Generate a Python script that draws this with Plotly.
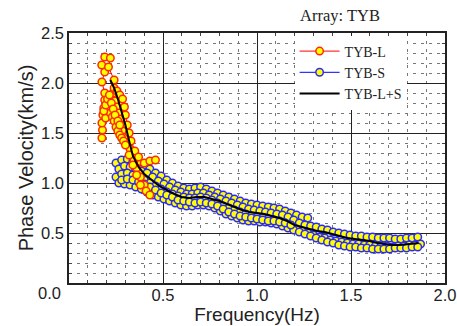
import plotly.graph_objects as go

# ---------------- data ----------------
# TYB-L (several branches)
L1_f = [0.175, 0.178, 0.175, 0.18, 0.185, 0.19, 0.19, 0.175, 0.19, 0.174, 0.19, 0.22, 0.21, 0.24]
L1_v = [1.45, 1.53, 1.60, 1.68, 1.75, 1.83, 1.90, 2.01, 2.11, 2.18, 2.26, 2.25, 2.16, 2.03]
L2_f = [0.195, 0.205, 0.215, 0.225, 0.235, 0.245, 0.255, 0.265, 0.275, 0.285, 0.295, 0.305, 0.315, 0.325, 0.335, 0.345, 0.36, 0.38, 0.40]
L2_v = [1.65, 1.72, 1.80, 1.86, 1.90, 1.82, 1.76, 1.70, 1.64, 1.58, 1.52, 1.46, 1.40, 1.34, 1.28, 1.22, 1.15, 1.06, 0.98]
L3_f = [0.24, 0.255, 0.27, 0.285, 0.295, 0.30, 0.31, 0.32, 0.33, 0.35, 0.37, 0.40, 0.43, 0.46]
L3_v = [1.95, 1.92, 1.88, 1.84, 1.76, 1.68, 1.58, 1.50, 1.42, 1.32, 1.26, 1.20, 1.22, 1.23]
L4_f = [0.20, 0.21, 0.22, 0.23, 0.24, 0.25, 0.26, 0.27, 0.28, 0.29, 0.30, 0.32, 0.34, 0.36, 0.38, 0.41, 0.43]
L4_v = [1.78, 1.74, 1.70, 1.66, 1.62, 1.56, 1.52, 1.48, 1.45, 1.42, 1.38, 1.28, 1.18, 1.08, 0.98, 0.92, 0.88]
L5_f = [0.185, 0.195, 0.205, 0.215, 0.225, 0.235, 0.245, 0.26, 0.27]
L5_v = [1.72, 1.78, 1.84, 1.88, 1.80, 1.74, 1.68, 1.62, 1.58]

# TYB-S (several branches)
S1_f = [0.25, 0.28, 0.31, 0.34, 0.37, 0.40, 0.43, 0.46, 0.49, 0.52, 0.55, 0.58, 0.61, 0.64, 0.67, 0.70, 0.73, 0.76,
        0.79, 0.82, 0.85, 0.88, 0.91, 0.94, 0.97, 1.00, 1.03, 1.06, 1.09, 1.12, 1.15, 1.18, 1.21, 1.24, 1.27]
S1_v = [1.20, 1.23, 1.24, 1.22, 1.20, 1.18, 1.14, 1.10, 1.07, 1.03, 1.00, 0.97, 0.95, 0.94, 0.95, 0.96, 0.94, 0.92,
        0.90, 0.88, 0.86, 0.84, 0.82, 0.80, 0.79, 0.78, 0.77, 0.76, 0.75, 0.74, 0.72, 0.70, 0.68, 0.66, 0.65]
S2_f = [0.265, 0.295, 0.325, 0.355, 0.385, 0.415, 0.445, 0.475, 0.505, 0.535, 0.565, 0.595, 0.625, 0.655, 0.685,
        0.715, 0.745, 0.775, 0.805, 0.835, 0.865, 0.895, 0.925, 0.955, 0.985, 1.015, 1.045, 1.075, 1.105, 1.135,
        1.165, 1.195, 1.225, 1.255, 1.285, 1.315, 1.345, 1.375, 1.405, 1.435, 1.465, 1.495, 1.525, 1.555, 1.585,
        1.615, 1.645, 1.675, 1.705, 1.735, 1.765, 1.795, 1.825, 1.855]
S2_v = [1.14, 1.17, 1.16, 1.14, 1.12, 1.10, 1.06, 1.02, 0.99, 0.96, 0.93, 0.91, 0.89, 0.89, 0.90,
        0.90, 0.88, 0.86, 0.84, 0.82, 0.80, 0.78, 0.76, 0.74, 0.73, 0.72, 0.71, 0.70, 0.69, 0.68,
        0.66, 0.63, 0.60, 0.58, 0.57, 0.56, 0.54, 0.53, 0.51, 0.50, 0.49, 0.48, 0.47, 0.47, 0.46,
        0.46, 0.45, 0.45, 0.45, 0.44, 0.44, 0.45, 0.45, 0.46]
S3_f = [0.25, 0.28, 0.31, 0.34, 0.37, 0.40, 0.43, 0.46, 0.49, 0.52, 0.55, 0.58, 0.61, 0.64, 0.67, 0.70, 0.73, 0.76,
        0.79, 0.82, 0.85, 0.88, 0.91, 0.94, 0.97, 1.00, 1.03, 1.06, 1.09, 1.12, 1.15, 1.18, 1.21, 1.24, 1.27, 1.30,
        1.33, 1.36, 1.39, 1.42, 1.45, 1.48, 1.51, 1.54, 1.57, 1.60, 1.63, 1.66, 1.69, 1.72, 1.75, 1.78, 1.81, 1.84, 1.87]
S3_v = [1.06, 1.09, 1.10, 1.08, 1.06, 1.03, 1.00, 0.97, 0.94, 0.91, 0.89, 0.87, 0.86, 0.85, 0.85, 0.86, 0.85, 0.83,
        0.80, 0.77, 0.75, 0.73, 0.71, 0.69, 0.67, 0.66, 0.65, 0.64, 0.63, 0.62, 0.60, 0.57, 0.54, 0.52, 0.50, 0.48,
        0.46, 0.45, 0.43, 0.42, 0.41, 0.40, 0.39, 0.39, 0.38, 0.38, 0.37, 0.37, 0.37, 0.36, 0.37, 0.37, 0.38, 0.38, 0.39]
S4_f = S2_f
S4_v = [1.00, 0.99, 0.98, 0.96, 0.94, 0.91, 0.88, 0.86, 0.84, 0.82, 0.80, 0.78, 0.77, 0.77, 0.78,
        0.78, 0.77, 0.75, 0.72, 0.69, 0.67, 0.65, 0.63, 0.62, 0.62, 0.61, 0.61, 0.60, 0.59, 0.57,
        0.55, 0.53, 0.51, 0.49, 0.47, 0.45, 0.43, 0.41, 0.40, 0.38, 0.37, 0.36, 0.36, 0.35, 0.35,
        0.34, 0.34, 0.34, 0.34, 0.35, 0.35, 0.35, 0.36, 0.36]
S5_f = [0.28, 0.31, 0.34, 0.37, 0.40, 0.43, 0.46, 0.49, 0.52, 0.55, 0.58, 0.61, 0.64, 0.67, 0.70, 0.73,
        0.76, 0.79, 0.82, 0.85, 0.88, 0.91, 0.94, 0.97, 1.00, 1.03, 1.06, 1.09, 1.12, 1.15, 1.18]
S5_v = [1.03, 1.04, 1.03, 1.01, 0.99, 0.96, 0.93, 0.90, 0.88, 0.86, 0.83, 0.82, 0.81, 0.80, 0.81, 0.80,
        0.79, 0.77, 0.74, 0.71, 0.69, 0.67, 0.66, 0.65, 0.64, 0.63, 0.62, 0.62, 0.61, 0.60, 0.58]

# TYB-L+S combined curve
LS_f = [0.22, 0.24, 0.26, 0.28, 0.30, 0.32, 0.34, 0.37, 0.40, 0.44, 0.48, 0.52, 0.56, 0.60, 0.64, 0.68, 0.72, 0.76,
        0.80, 0.84, 0.88, 0.92, 0.96, 1.00, 1.04, 1.08, 1.12, 1.16, 1.20, 1.24, 1.28, 1.32, 1.36, 1.40, 1.44, 1.48,
        1.52, 1.56, 1.60, 1.64, 1.68, 1.72, 1.76, 1.80, 1.84, 1.86]
LS_v = [2.03, 1.95, 1.84, 1.72, 1.58, 1.42, 1.27, 1.16, 1.09, 1.03, 0.97, 0.93, 0.89, 0.86, 0.85, 0.86, 0.86, 0.84,
        0.82, 0.79, 0.76, 0.73, 0.71, 0.70, 0.69, 0.67, 0.65, 0.62, 0.58, 0.56, 0.54, 0.52, 0.51, 0.49, 0.47, 0.45,
        0.44, 0.43, 0.42, 0.40, 0.39, 0.38, 0.38, 0.39, 0.40, 0.40]

# tick labels (the shared origin label "0.0" sits once at the lower-left corner)
x_ticks = [0.5, 1.0, 1.5, 2.0]
y_ticks = [0.5, 1.0, 1.5, 2.0, 2.5]
origin_label = "0.0"


def join(branches):
    xs, ys = [], []
    for fx, vy in branches:
        xs += list(fx) + [None]
        ys += list(vy) + [None]
    return xs, ys


Lx, Ly = join([(L1_f, L1_v), (L2_f, L2_v), (L3_f, L3_v), (L4_f, L4_v), (L5_f, L5_v)])
Sx, Sy = join([(S1_f, S1_v), (S2_f, S2_v), (S3_f, S3_v), (S4_f, S4_v), (S5_f, S5_v)])

SANS = "Liberation Sans, Arial, sans-serif"
SERIF = "Liberation Serif, Times New Roman, serif"
TXT = "#222"

fig = go.Figure()
fig.add_trace(go.Scatter(
    x=Sx, y=Sy, mode="lines+markers", name="TYB-S", legendrank=2,
    line=dict(color="#0000ff", width=1),
    marker=dict(symbol="circle", size=7.5, color="#ffff00", line=dict(color="#2a2aff", width=1.5)),
))
fig.add_trace(go.Scatter(
    x=Lx, y=Ly, mode="lines+markers", name="TYB-L", legendrank=1,
    line=dict(color="#ff0000", width=1),
    marker=dict(symbol="circle", size=7.5, color="#ffff00", line=dict(color="#ff2a00", width=1.5)),
))
fig.add_trace(go.Scatter(
    x=LS_f, y=LS_v, mode="lines", name="TYB-L+S", legendrank=3,
    line=dict(color="#000000", width=2),
))

axis_common = dict(
    showline=True, linecolor="#222", linewidth=1.5, mirror="ticks", automargin=False,
    showgrid=True, gridcolor="#222", gridwidth=1,
    zeroline=False, ticks="inside", ticklen=5, tickcolor="#222",
    tickfont=dict(family=SANS, size=16.5, color=TXT),
    minor=dict(dtick=0.1, showgrid=True, gridcolor="#777", griddash="3px,5px", gridwidth=1,
               ticks="inside", ticklen=3, tickcolor="#444"),
)
fig.update_xaxes(range=[0, 2.0], tickvals=x_ticks, ticktext=[f"{t:.1f}" for t in x_ticks],
                 ticklabelstandoff=-4,
                 title=dict(text="Frequency(Hz)", font=dict(family=SANS, size=19, color=TXT), standoff=0),
                 **axis_common)
fig.update_yaxes(range=[0, 2.5], tickvals=y_ticks, ticktext=[f"{t:.1f}" for t in y_ticks],
                 title=dict(text="Phase Velocity(km/s)", font=dict(family=SANS, size=20, color=TXT), standoff=2),
                 **axis_common)

fig.update_layout(
    width=457, height=326,
    margin=dict(l=69, r=12, t=33, b=43),
    plot_bgcolor="white", paper_bgcolor="white",
    showlegend=True,
    legend=dict(x=0.6, y=0.99, xanchor="left", yanchor="top", bgcolor="white",
                font=dict(family=SERIF, size=14, color=TXT), itemwidth=40,
                tracegroupgap=0, traceorder="normal"),
    annotations=[
        dict(text="Array: TYB", x=0.72, y=1.0, xref="paper", yref="paper",
             xanchor="center", yanchor="bottom", yshift=6, showarrow=False,
             font=dict(family=SERIF, size=16.5, color=TXT)),
        dict(text=origin_label, x=0, y=0, xref="paper", yref="paper",
             xanchor="right", yanchor="middle", xshift=-6, yshift=-10, showarrow=False,
             font=dict(family=SANS, size=16.5, color=TXT)),
    ],
)

fig.write_html("out.html")
